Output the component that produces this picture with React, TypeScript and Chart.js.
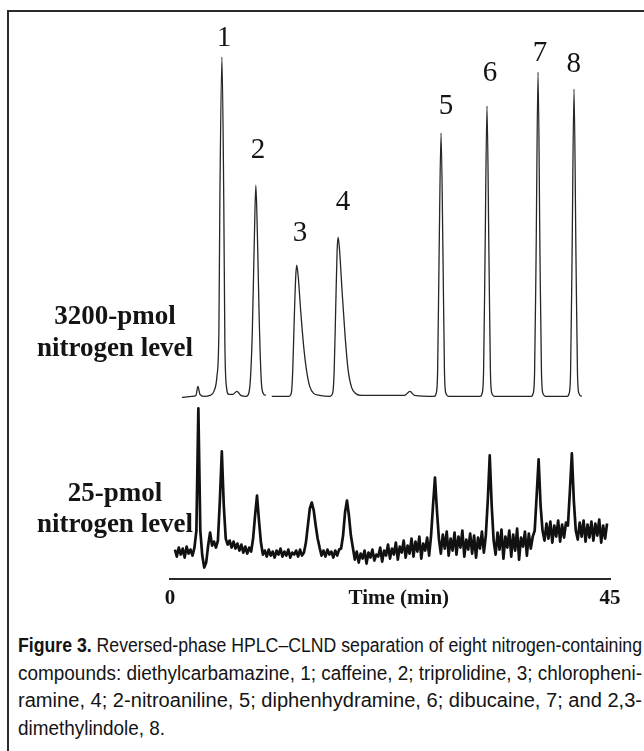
import React, { useEffect, useLayoutEffect, useRef } from 'react';
import { Chart, registerables } from 'chart.js';

Chart.register(...registerables);

// ---------------- data ----------------
const X_MIN = 0;
const X_MAX = 45;
const X_TICK_VALUES = [0, 45];
const X_TITLE = 'Time (min)';
const X_TITLE_AT = 23.4; // minutes, centre of the axis title

const UPPER_NAME = ['3200-pmol', 'nitrogen level'];
const LOWER_NAME = ['25-pmol', 'nitrogen level'];

// 3200-pmol trace: time (min) and detector response (arb. units above its baseline)
const UPPER_TIME = [
  1.22, 2.24, 2.65, 2.86, 3.06, 3.47, 4.08, 4.49, 4.8, 5.0,
  5.1, 5.31, 5.5, 5.61, 5.77, 6.02, 6.43, 6.84, 7.24, 7.76,
  7.96, 8.21, 8.42, 8.62, 8.78, 8.93, 9.13, 9.34, 9.54, 9.8,
  10.1, 10.41,
  12.14, 12.4, 12.55, 12.7, 12.86, 12.96, 13.11, 13.37, 13.67, 13.98, 14.29, 14.69, 15.31,
  16.33, 16.63, 16.79, 16.94, 17.09, 17.19, 17.35, 17.6, 17.91, 18.21, 18.57, 18.98, 19.59,
  23.98, 24.54, 25.0,
  27.02, 27.22, 27.37, 27.52, 27.72, 27.92, 28.07, 28.22, 28.52,
  31.72, 31.92, 32.07, 32.22, 32.42, 32.62, 32.77, 32.92, 33.22,
  36.94, 37.14, 37.29, 37.44, 37.64, 37.84, 37.99, 38.14, 38.44,
  40.62, 40.82, 40.97, 41.12, 41.32, 41.52, 41.67, 41.82, 42.12,
];
const UPPER_RESP = [
  -1, 0, 1, 10, 2, 0, 1, 5, 20, 65,
  195, 339, 195, 55, 10, 2, 2, 5, 1, 0,
  1, 15, 65, 155, 211, 165, 75, 15, 3, 1,
  null, 0,
  0, 3, 25, 75, 120, 131, 120, 85, 50, 25, 10, 3, 1,
  0, 3, 25, 85, 145, 159, 145, 105, 60, 27, 9, 3, 1,
  1, 5, 1,
  0, 3, 25, 140, 263, 140, 25, 3, 0,
  0, 3, 25, 140, 290, 140, 25, 3, 0,
  0, 3, 25, 140, 324, 140, 25, 3, 0,
  0, 3, 25, 140, 307, 140, 25, 3, 0,
];

// 25-pmol trace: sampled every LOWER_STEP min from LOWER_START (arb. units)
const LOWER_START = 0.5;
const LOWER_STEP = 0.2;
const LOWER_RESP = [
  1, -6, 3, -4, 2, -7, 4, -3, 1, -5, 3,
  20, 142, 20, -5, -17, -12, 5, 18, 5, 9, 3, 10, 50, 99,
  45, 12, 6, 10, 3, 9, 2, 7, 0, 6, -2, 4, -3, 3, -1,
  12, 35, 55, 30, 8,
  -4, 0, -6, 1, -5, -1, -7, 0, -4, 2, -6, -1, -5, 1, -7, -2, -4, 0, -6, 1, -5, -2,
  8, 25, 42, 48, 40, 25, 12, 3,
  -5, 0, -6, 1, -4, -1, -7, 0, -5, 1, 2,
  15, 38, 50, 35, 15, 3,
  -9, -1, -12, -3, -8, 0, -13, -2, -7, 1, -10, -4, -6, 3, -11, 0, -5, 6, -8, 2,
  -4, 8, -9, 4, -2, 10, -7, 5, -3, 12, -6, 9, -1, 14, -8, 7, 0, 13, -5,
  15, 45, 73, 40, 12,
  -3, 16, 2, 19, -5, 12, 0, 18, -4, 14, 3, 20, -6, 11, 1, 17, -3, 15, -7, 13, 2, 19, -2,
  15, 50, 95, 45, 10,
  -4, 18, 1, 21, -8, 14, 3, 20, -6, 16, 0, 22, -9, 13, 4, 19, -5, 17, 2, 14,
  20, 55, 91, 45, 20,
  10, 27, 12, 29, 8, 25, 14, 30, 9, 26, 13, 28,
  25, 60, 97, 50, 20,
  11, 28, 14, 30, 9, 26, 13, 29, 10, 27, 15, 31, 8, 25, 12, 27,
];

// vertical offsets of the two stacked traces on the shared response axis
const UPPER_OFFSET = 182;
const LOWER_OFFSET = 28;
const Y_MAX = 560;

const PEAK_NAMES = ['1', '2', '3', '4', '5', '6', '7', '8'];
const PEAK_LABEL_TIME = [5.52, 9.0, 13.29, 17.69, 28.22, 32.72, 37.84, 41.29];
const PEAK_LABEL_RESP = [358, 246, 163, 194, 290, 323, 343, 332];

const CAPTION_LEAD = 'Figure 3.';
const CAPTION_LINES = [
  ' Reversed-phase HPLC–CLND separation of eight nitrogen-containing',
  'compounds: diethylcarbamazine, 1; caffeine, 2; triprolidine, 3; chloropheni-',
  'ramine, 4; 2-nitroaniline, 5; diphenhydramine, 6; dibucaine, 7; and 2,3-',
  'dimethylindole, 8.',
];

// ---------------- styles ----------------
const SERIF = '"Liberation Serif", "Times New Roman", Times, serif';
const SANS = '"Liberation Sans", Arial, sans-serif';
const INK = '#141414';
const TICK_PAD = 7;
const AXIS_FONT = { family: SERIF, size: 21, weight: 'bold' as const, lineHeight: 1.2 };
const CAPTION_WIDTH = 624;

export default function App() {
  const canvasRef = useRef<HTMLCanvasElement | null>(null);
  const capRefs = useRef<(HTMLSpanElement | null)[]>([]);

  useLayoutEffect(() => {
    const spans = capRefs.current;
    const scales: number[] = [];
    spans.forEach((s, i) => {
      if (!s) return;
      s.style.transform = 'none';
      const w = s.getBoundingClientRect().width;
      if (i < CAPTION_LINES.length - 1) scales.push(CAPTION_WIDTH / w);
    });
    const avg = scales.reduce((a, b) => a + b, 0) / Math.max(1, scales.length);
    spans.forEach((s, i) => {
      if (!s) return;
      const k = i < CAPTION_LINES.length - 1 ? scales[i] : avg;
      s.style.transform = `scaleX(${k})`;
    });
  }, []);

  useEffect(() => {
    const canvas = canvasRef.current;
    if (!canvas) return;

    const upperPoints = UPPER_TIME.map((t, i) => ({
      x: t,
      y: UPPER_RESP[i] === null ? null : (UPPER_RESP[i] as number) + UPPER_OFFSET,
    }));
    const lowerPoints = LOWER_RESP.map((v, i) => ({
      x: LOWER_START + LOWER_STEP * i,
      y: v + LOWER_OFFSET,
    }));

    const annotations = {
      id: 'peakAnnotations',
      afterDraw(chart: any) {
        const { ctx, scales } = chart;
        const xs = scales.x;
        const ys = scales.y;
        ctx.save();
        ctx.fillStyle = INK;
        ctx.textAlign = 'center';
        ctx.textBaseline = 'middle';
        ctx.font = `29px ${SERIF}`;
        PEAK_NAMES.forEach((n, i) => {
          ctx.fillText(
            n,
            xs.getPixelForValue(PEAK_LABEL_TIME[i]),
            ys.getPixelForValue(PEAK_LABEL_RESP[i] + UPPER_OFFSET)
          );
        });
        ctx.font = `bold ${AXIS_FONT.size}px ${SERIF}`;
        ctx.fillText(
          X_TITLE,
          xs.getPixelForValue(X_TITLE_AT),
          xs.top + TICK_PAD + (AXIS_FONT.size * AXIS_FONT.lineHeight) / 2
        );
        ctx.restore();
      },
    };

    const chart = new Chart(canvas, {
      type: 'line',
      data: {
        datasets: [
          {
            label: '3200-pmol nitrogen level',
            data: upperPoints as any,
            borderColor: '#262626',
            borderWidth: 1.3,
            pointRadius: 0,
            cubicInterpolationMode: 'monotone',
            spanGaps: false,
            fill: false,
          },
          {
            label: '25-pmol nitrogen level',
            data: lowerPoints as any,
            borderColor: '#111111',
            borderWidth: 2.7,
            borderJoinStyle: 'round',
            pointRadius: 0,
            tension: 0,
            fill: false,
          },
        ],
      },
      options: {
        animation: false,
        responsive: false,
        devicePixelRatio: 1,
        events: [],
        layout: { padding: { left: 170, right: 34, top: 18, bottom: 2.2 } },
        plugins: { legend: { display: false }, tooltip: { enabled: false }, title: { display: false } },
        scales: {
          x: {
            type: 'linear',
            min: X_MIN,
            max: X_MAX,
            grid: { display: false, drawTicks: false },
            border: { display: true, color: '#2a2a2a', width: 2 },
            afterBuildTicks: (scale: any) => {
              scale.ticks = X_TICK_VALUES.map((v) => ({ value: v }));
            },
            ticks: {
              padding: TICK_PAD,
              color: INK,
              font: AXIS_FONT,
              maxRotation: 0,
              autoSkip: false,
              callback: (v: any) => String(v),
            },
          },
          y: { type: 'linear', display: false, min: 0, max: Y_MAX },
        },
      },
      plugins: [annotations],
    });

    return () => chart.destroy();
  }, []);

  const labelStyle = (top: number, lh: number): React.CSSProperties => ({
    position: 'absolute',
    left: 15,
    width: 200,
    top,
    textAlign: 'center',
    fontFamily: SERIF,
    fontWeight: 'bold',
    fontSize: 27,
    lineHeight: `${lh}px`,
    color: INK,
    whiteSpace: 'nowrap',
  });

  const captionStyle = (i: number): React.CSSProperties => ({
    position: 'absolute',
    left: 18,
    top: 632 + i * 27.5,
    fontFamily: SANS,
    fontSize: 20,
    lineHeight: '27.5px',
    color: INK,
    whiteSpace: 'pre',
  });

  return (
    <div
      style={{
        position: 'fixed',
        left: 0,
        top: 0,
        width: 644,
        height: 751,
        overflow: 'hidden',
        background: '#ffffff',
      }}
    >
      <div
        style={{
          position: 'absolute',
          left: 7,
          top: 10,
          width: 720,
          height: 820,
          border: '2px solid #2b2b2b',
        }}
      />
      <canvas
        ref={canvasRef}
        width={644}
        height={620}
        style={{ position: 'absolute', left: 0, top: 0, width: 644, height: 620, display: 'block' }}
      />
      <div style={labelStyle(299, 32)}>
        {UPPER_NAME[0]}
        <br />
        {UPPER_NAME[1]}
      </div>
      <div style={labelStyle(477, 31)}>
        {LOWER_NAME[0]}
        <br />
        {LOWER_NAME[1]}
      </div>
      {CAPTION_LINES.map((line, i) => (
        <div key={i} style={captionStyle(i)}>
          <span
            ref={(el) => {
              capRefs.current[i] = el;
            }}
            style={{ display: 'inline-block', transformOrigin: '0 50%' }}
          >
            {i === 0 ? <b>{CAPTION_LEAD}</b> : null}
            {line}
          </span>
        </div>
      ))}
    </div>
  );
}
